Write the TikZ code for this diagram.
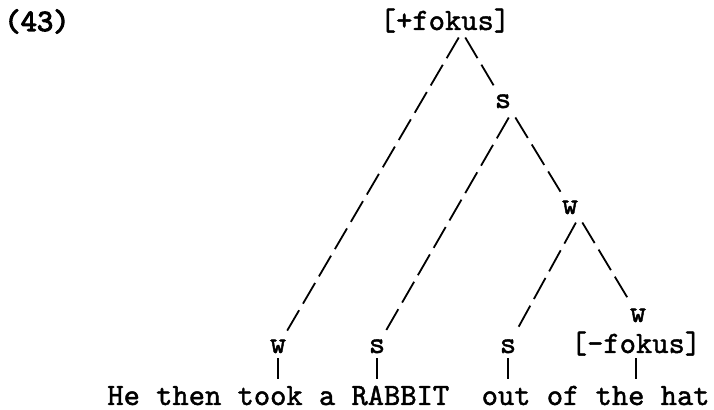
\documentclass[tikz,border=0pt]{standalone}
\usepackage{fontspec}
\usepackage{tikz}
\usetikzlibrary{positioning}
\newfontfamily\typew[FakeBold=1.4]{lmmono10-regular.otf}
\newfontfamily\typewb[FakeBold=3.5]{lmmono10-regular.otf}
\newcommand{\mono}{\typew\fontsize{15.5}{18}\selectfont}

\begin{document}
\begin{tikzpicture}[x=0.5pt, y=-0.5pt, font=\mono,
      lbl/.style={inner sep=0pt, text depth=0pt, anchor=base},
      branch/.style={line width=0.9pt, dash pattern=on 12pt off 3.8pt, shorten <=3.2pt, shorten >=5pt},
      stem/.style={line width=0.9pt, shorten <=2.5pt, shorten >=3pt}]
      \useasboundingbox (0,0) rectangle (714,410);
      \node[lbl, anchor=base west, font=\typewb\fontsize{15.5}{18}\selectfont] (num) at (4,31) {(43)};
      \node[lbl] (root) at (445,30) {[+fokus]};
      \node[lbl] (s1) at (503,108) {s};
      \node[lbl] (w2) at (570,214) {w};
      \node[lbl] (w1) at (278,353) {w};
      \node[lbl] (s2) at (377,353) {s};
      \node[lbl] (s3) at (508,353) {s};
      \node[lbl] (w3) at (638,322) {w};
      \node[lbl] (fk) at (636,353) {[-fokus]};
      \node[lbl, anchor=base west] (sent) at (107,405) {He then took a RABBIT\ \ out of the hat};
      \coordinate (rootf) at (462,32);
      \coordinate (s1f) at (512,112);
      \coordinate (w2f) at (579,217);
      \draw[branch] (rootf)--(w1); \draw[branch] (rootf)--(s1);
      \draw[branch] (s1f)--(s2);   \draw[branch] (s1f)--(w2);
      \draw[branch] (w2f)--(s3);   \draw[branch] (w2f)--(w3);
      \foreach \n in {w1,s2,s3,fk} \draw[stem] (\n)--(\n |- sent.north);
\end{tikzpicture}
\end{document}
